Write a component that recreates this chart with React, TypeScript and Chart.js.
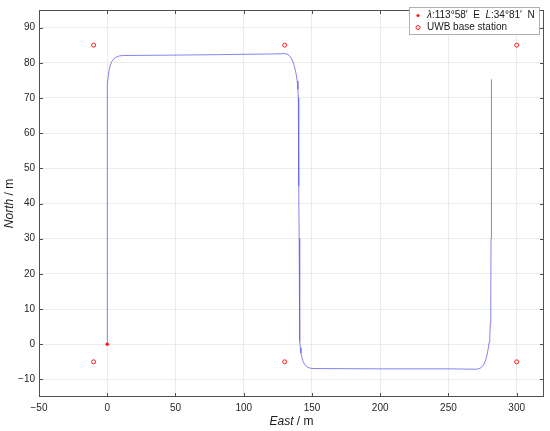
import React, { useEffect, useRef } from "react";
import { Chart, registerables } from "chart.js";

Chart.register(...registerables);

// Trajectory (East, North) in metres
const trackEast = [
  0, 0, 0, 0, 0, 0, 0, 0, 0.1, 0.3, 0.7, 1.3, 2.2, 3.4, 5, 7, 9, 11,
  40, 80, 120, 130, 131.7, 133.2, 134.6, 135.8, 136.8, 137.7, 138.5, 139.2, 139.7, 140, 140.2,
  140.4, 140.6, 140.8, 141, 141.2, 141.5, 141.9, 142.6, 143.5, 144.6, 146, 147.8, 150,
  200, 250, 270, 272, 273.8, 275.3, 276.5, 277.5, 278.4, 279.2, 279.8, 280.3, 280.7, 281,
  281.2, 281.4, 281.5, 281.6,
];
const trackNorth = [
  0, 10, 20, 30, 40, 50, 60, 70, 72, 74, 76, 77.8, 79.3, 80.4, 81.2, 81.7, 81.95, 82.05,
  82.15, 82.3, 82.5, 82.6, 82.5, 82.1, 81.4, 80.5, 79.4, 78.1, 76.6, 74.8, 72.5, 70, 60,
  45, 30, 10, 3, 0.8, -1, -2.5, -3.8, -4.9, -5.7, -6.3, -6.7, -6.9,
  -7.0, -7.0, -7.1, -7.0, -6.7, -6.1, -5.3, -4.2, -2.8, -1.1, 0.6, 2.5, 6, 12,
  30, 50, 65, 75.3,
];

const originEast = [0];
const originNorth = [0];

const stationEast = [-10, 130, 300, -10, 130, 300];
const stationNorth = [85, 85, 85, -5, -5, -5];

const xTicks = [-50, 0, 50, 100, 150, 200, 250, 300];
const yTicks = [-10, 0, 10, 20, 30, 40, 50, 60, 70, 80, 90];

const legendLine1 = ["λ", ":113°58′  E  ", "L", ":34°81′  N"];
const legendLine2 = "UWB base station";
const xTitle = ["East", " / m"];
const yTitle = ["North", " / m"];

const FONT = "'Liberation Sans', Arial, Helvetica, sans-serif";
const RED = "#ff1a1a";
const FRAME = "#505050";

const framePlugin = {
  id: "framePlugin",
  afterDraw(chart: any) {
    const { ctx, chartArea: a, scales } = chart;
    const xs = scales.x;
    const ys = scales.y;
    ctx.save();
    ctx.strokeStyle = FRAME;
    ctx.lineWidth = 1;
    ctx.strokeRect(Math.round(a.left) + 0.5, Math.round(a.top) + 0.5, Math.round(a.right - a.left) - 1, Math.round(a.bottom - a.top) - 1);
    const tl = 4;
    ctx.beginPath();
    for (const v of xTicks) {
      const px = Math.round(xs.getPixelForValue(v)) + 0.5;
      ctx.moveTo(px, a.bottom);
      ctx.lineTo(px, a.bottom - tl);
      ctx.moveTo(px, a.top);
      ctx.lineTo(px, a.top + tl);
    }
    for (const v of yTicks) {
      const py = Math.round(ys.getPixelForValue(v)) + 0.5;
      ctx.moveTo(a.left, py);
      ctx.lineTo(a.left + tl, py);
      ctx.moveTo(a.right, py);
      ctx.lineTo(a.right - tl, py);
    }
    ctx.stroke();

    const drawMixed = (parts: string[], x: number, y: number, italicIdx: number[], size: number, align: string) => {
      const widths: number[] = [];
      parts.forEach((p, i) => {
        ctx.font = `${italicIdx.includes(i) ? "italic " : ""}${size}px ${FONT}`;
        widths.push(ctx.measureText(p).width);
      });
      const total = widths.reduce((s, w) => s + w, 0);
      let cx = align === "center" ? x - total / 2 : x;
      ctx.textAlign = "left";
      ctx.textBaseline = "middle";
      parts.forEach((p, i) => {
        ctx.font = `${italicIdx.includes(i) ? "italic " : ""}${size}px ${FONT}`;
        ctx.fillText(p, cx, y);
        cx += widths[i];
      });
    };
    ctx.fillStyle = "#1a1a1a";
    drawMixed(xTitle, (a.left + a.right) / 2, 422, [0], 12, "center");
    ctx.save();
    ctx.translate(10, (a.top + a.bottom) / 2);
    ctx.rotate(-Math.PI / 2);
    drawMixed(yTitle, 0, 0, [0], 12, "center");
    ctx.restore();

    const lx = 409, ly = 7, lw = 130, lh = 27;
    ctx.fillStyle = "#ffffff";
    ctx.fillRect(lx, ly, lw, lh);
    ctx.strokeStyle = "#b0b0b0";
    ctx.strokeRect(lx + 0.5, ly + 0.5, lw, lh);
    ctx.fillStyle = RED;
    ctx.beginPath();
    ctx.arc(418, 15.5, 1.6, 0, Math.PI * 2);
    ctx.fill();
    ctx.strokeStyle = RED;
    ctx.beginPath();
    ctx.arc(418, 27.5, 2, 0, Math.PI * 2);
    ctx.stroke();
    ctx.fillStyle = "#1a1a1a";
    drawMixed(legendLine1, 427, 15.5, [0, 2], 10, "left");
    drawMixed([legendLine2], 427, 27.5, [], 10, "left");
    ctx.restore();
  },
};

export default function App() {
  const ref = useRef<HTMLCanvasElement>(null);
  useEffect(() => {
    document.body.style.margin = "0";
    const fmt = (v: any) => String(v).replace("-", "\u2212");
    const chart = new Chart(ref.current!, {
      type: "scatter",
      data: {
        datasets: [
          {
            label: "origin",
            data: originEast.map((x, i) => ({ x, y: originNorth[i] })),
            pointRadius: 1.8,
            pointBackgroundColor: RED,
            pointBorderColor: RED,
            pointBorderWidth: 0,
            order: 0,
          },
          {
            label: "stations",
            data: stationEast.map((x, i) => ({ x, y: stationNorth[i] })),
            pointRadius: 2,
            pointBackgroundColor: "rgba(0,0,0,0)",
            pointBorderColor: RED,
            pointBorderWidth: 1,
            order: 1,
          },
          {
            label: "track",
            data: trackEast.map((x, i) => ({ x, y: trackNorth[i] })),
            showLine: true,
            borderColor: "rgba(100,100,235,0.8)",
            borderWidth: 1,
            pointRadius: 0,
            tension: 0,
            order: 2,
          } as any,
        ],
      },
      options: {
        animation: false,
        responsive: false,
        maintainAspectRatio: false,
        layout: { padding: { left: 0, top: 3, right: 6, bottom: 0 } },
        plugins: { legend: { display: false }, tooltip: { enabled: false } },
        scales: {
          x: {
            type: "linear",
            min: -50,
            max: 320,
            afterFit: (s: any) => { s.height = 34; },
            afterBuildTicks: (s: any) => { s.ticks = xTicks.map((v) => ({ value: v })); },
            ticks: { font: { size: 10, family: FONT }, color: "#262626", padding: 5, callback: fmt, maxRotation: 0, autoSkip: false },
            grid: { color: "#ececec", drawTicks: false },
            border: { display: false },
          },
          y: {
            type: "linear",
            min: -15,
            max: 95,
            afterFit: (s: any) => { s.width = 39; },
            afterBuildTicks: (s: any) => { s.ticks = yTicks.map((v) => ({ value: v })); },
            ticks: { font: { size: 10, family: FONT }, color: "#262626", padding: 4, callback: fmt, autoSkip: false },
            grid: { color: "#ececec", drawTicks: false },
            border: { display: false },
          },
        },
      },
      plugins: [framePlugin],
    } as any);
    return () => chart.destroy();
  }, []);
  return (
    <div style={{ width: 550, height: 431, background: "#fff" }}>
      <canvas ref={ref} width={550} height={431} style={{ display: "block" }} />
    </div>
  );
}
